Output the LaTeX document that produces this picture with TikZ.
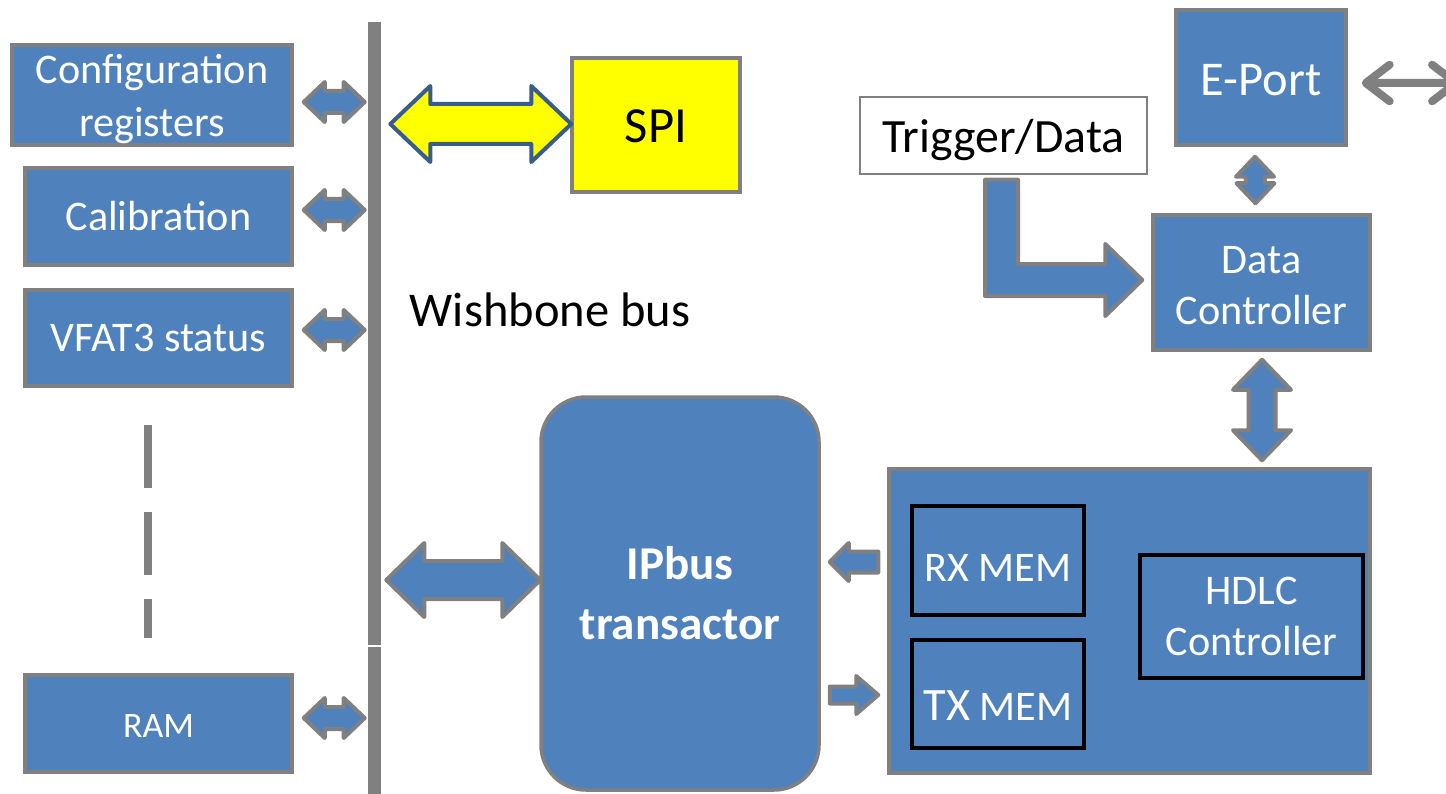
\documentclass[tikz,border=0pt]{standalone}
\usepackage{fontspec}
\setmainfont{Carlito}
\usetikzlibrary{calc,arrows.meta}
\definecolor{boxblue}{HTML}{4F81BD}
\definecolor{edgegray}{HTML}{808080}
\definecolor{spiyellow}{HTML}{FFFF00}
\definecolor{spiedge}{HTML}{385D8A}
\newlength{\px}\setlength{\px}{0.025cm}
\newcommand{\dropby}[2]{\raisebox{-#1}[\height][\depth]{#2}}
\tikzset{block/.style={rectangle, draw=edgegray, fill=boxblue, line width=3.5\px, text=white, align=center, inner sep=0pt, font=\fontsize{30}{36.5}\selectfont}}
\tikzset{memblock/.style={rectangle, draw=black, fill=boxblue, line width=4.5\px, text=white, align=center, inner sep=0pt, font=\fontsize{30}{36.5}\selectfont}}
\tikzset{bar/.style={rectangle, fill=edgegray, draw=none, inner sep=0pt}}
\tikzset{blockarrow/.style={draw=edgegray, fill=boxblue, line width=4\px, line join=round}}
\tikzset{linearrow/.style={draw=edgegray, line width=8\px, line cap=round, {Straight Barb[length=17pt,width=26pt,round]}-{Straight Barb[length=17pt,width=26pt,round]}}}
% horizontal double block arrow: left tip, right tip, head half, shaft half, head length
\newcommand{\hdarrow}[6][]{%
  \coordinate (ha) at (#2); \coordinate (hb) at (#3);
  \draw[blockarrow,#1] (ha) -- ($(ha)+(#6,-#4)$) -- ($(ha)+(#6,-#5)$) -- ($(hb)+(-#6,-#5)$) -- ($(hb)+(-#6,-#4)$) -- (hb) -- ($(hb)+(-#6,#4)$) -- ($(hb)+(-#6,#5)$) -- ($(ha)+(#6,#5)$) -- ($(ha)+(#6,#4)$) -- cycle;}
% vertical double block arrow: top tip, bottom tip, head half, shaft half, head length
\newcommand{\vdarrow}[6][]{%
  \coordinate (va) at (#2); \coordinate (vb) at (#3);
  \draw[blockarrow,#1] (va) -- ($(va)+(-#4,#6)$) -- ($(va)+(-#5,#6)$) -- ($(vb)+(-#5,-#6)$) -- ($(vb)+(-#4,-#6)$) -- (vb) -- ($(vb)+(#4,-#6)$) -- ($(vb)+(#5,-#6)$) -- ($(va)+(#5,#6)$) -- ($(va)+(#4,#6)$) -- cycle;}
% single block arrow: tail, tip, head half, shaft half, head base offset
\newcommand{\sarrow}[6][]{%
  \coordinate (sa) at (#2); \coordinate (sb) at (#3);
  \draw[blockarrow,#1] ($(sa)+(0,-#5)$) -- ($(sb)+(#6,-#5)$) -- ($(sb)+(#6,-#4)$) -- (sb) -- ($(sb)+(#6,#4)$) -- ($(sb)+(#6,#5)$) -- ($(sa)+(0,#5)$) -- cycle;}

\begin{document}
\begin{tikzpicture}[x=0.025cm, y=-0.025cm]
\clip (0,0) rectangle (1446,794);

% left column
\node [block, minimum width=280\px, minimum height=100\px] (cfg) at (152, 95) {\dropby{2.5pt}{Configuration}\\\dropby{3.5pt}{registers}};
\node [block, minimum width=267\px, minimum height=97\px] (calib) at (158.5, 216.5) {Calibration};
\node [block, minimum width=267\px, minimum height=96\px] (vfat) at (158.5, 338) {VFAT3 status};
\node [block, minimum width=267\px, minimum height=97\px, font=\fontsize{25.5}{30}\selectfont] (ram) at (158.5, 723.5) {\dropby{1.5pt}{RAM}};

% wishbone bus
\node [bar, minimum width=13\px, minimum height=623\px] (bus) at (374.5, 333.5) {};
\node [bar, minimum width=13\px, minimum height=147\px] (busb) at (374.5, 720.5) {};
\node [font=\fontsize{34.5}{40}\selectfont] (wb) at (550, 310) {Wishbone bus};

\node [block, fill=spiyellow, text=black, minimum width=168\px, minimum height=134\px, font=\fontsize{36}{42}\selectfont] (spi) at (656, 125) {\dropby{1pt}{SPI}};
\node [block, rounded corners=45\px, minimum width=278\px, minimum height=393\px, font=\fontsize{33.5}{42.5}\selectfont\bfseries] (ipbus) at (680, 593.5) {IPbus\\transactor};

% right side
\node [block, fill=white, text=black, line width=1.5\px, minimum width=287\px, minimum height=77\px, font=\fontsize{34}{40}\selectfont] (trig) at (1003.5, 135.5) {\dropby{3pt}{Trigger/Data}};
\node [block, minimum width=170\px, minimum height=135\px, font=\fontsize{34.5}{40}\selectfont] (eport) at (1261, 77.5) {\dropby{2pt}{E-Port}};
\node [block, minimum width=217\px, minimum height=135\px] (datactrl) at (1261.5, 282.5) {\dropby{2pt}{Data}\\\dropby{2pt}{Controller}};
\node [block, minimum width=481\px, minimum height=304\px] (hdlcbox) at (1129.5, 621) {};
\node [memblock, minimum width=172\px, minimum height=109\px] (rxmem) at (998, 560.5) {\dropby{5.5pt}{RX MEM}};
\node [memblock, minimum width=172\px, minimum height=108\px] (txmem) at (998, 694) {\dropby{8.5pt}{{\fontsize{33}{40}\selectfont TX} MEM}};
\node [memblock, minimum width=223\px, minimum height=123\px] (hdlc) at (1251.5, 616.5) {HDLC\\Controller};

\draw [edgegray, line width=8\px, dash pattern=on 63\px off 24\px] ($(vfat.south)+(-10.5,37)$) -- ($(ram.north)+(-10.5,-35)$);

% bus arrows
\hdarrow{$(cfg.east)+(10,7)$}{$(cfg.east -| bus.west)+(-3,7)$}{20}{11}{21}
\hdarrow{$(calib.east)+(10,-6.5)$}{$(calib.east -| bus.west)+(-3,-6.5)$}{20}{11}{21}
\hdarrow{$(vfat.east)+(10,-8)$}{$(vfat.east -| bus.west)+(-3,-8)$}{20}{11}{21}
\hdarrow{$(ram.east)+(10,-5.5)$}{$(ram.east -| busb.west)+(-3,-5.5)$}{20}{11}{21}
\hdarrow[draw=spiedge, fill=spiyellow]{$(spi.west -| bus.east)+(9,-1)$}{$(spi.west)+(1,-1)$}{38}{20}{40}
\hdarrow{$(ipbus.west -| bus.east)+(5,-13.5)$}{$(ipbus.west)+(1,-13.5)$}{37}{19}{38}

% ipbus to memories
\sarrow{$(hdlcbox.west |- rxmem)+(-9,1.5)$}{$(ipbus.east |- rxmem)+(9,1.5)$}{19}{10.5}{19}
\sarrow{$(ipbus.east |- txmem)+(9,1)$}{$(hdlcbox.west |- txmem)+(-9,1)$}{19}{8.5}{-22}

% data controller
\vdarrow{$(eport.south)+(-6,10)$}{$(datactrl.north)+(-6,-10)$}{19}{9.5}{20}
\vdarrow{$(datactrl.south)+(0.5,8)$}{$(hdlcbox.north -| datactrl.south)+(0.5,-7)$}{29}{13.5}{30}

\coordinate (lstart) at ($(trig.south)+(-2,5)$);
\coordinate (ltip) at ($(datactrl.west)+(-9,-2.5)$);
\draw [blockarrow] ($(lstart)+(-16.5,0)$) |- ($(ltip)+(-37,16)$) -- ($(ltip)+(-37,36)$) -- (ltip) -- ($(ltip)+(-37,-36)$) -- ($(ltip)+(-37,-16)$) -| ($(lstart)+(16.5,0)$) -- cycle;

\coordinate (eportout) at (1460, 83);
\draw [linearrow] ($(eport.east)+(14,5.5)$) -- (eportout);

\end{tikzpicture}
\end{document}
